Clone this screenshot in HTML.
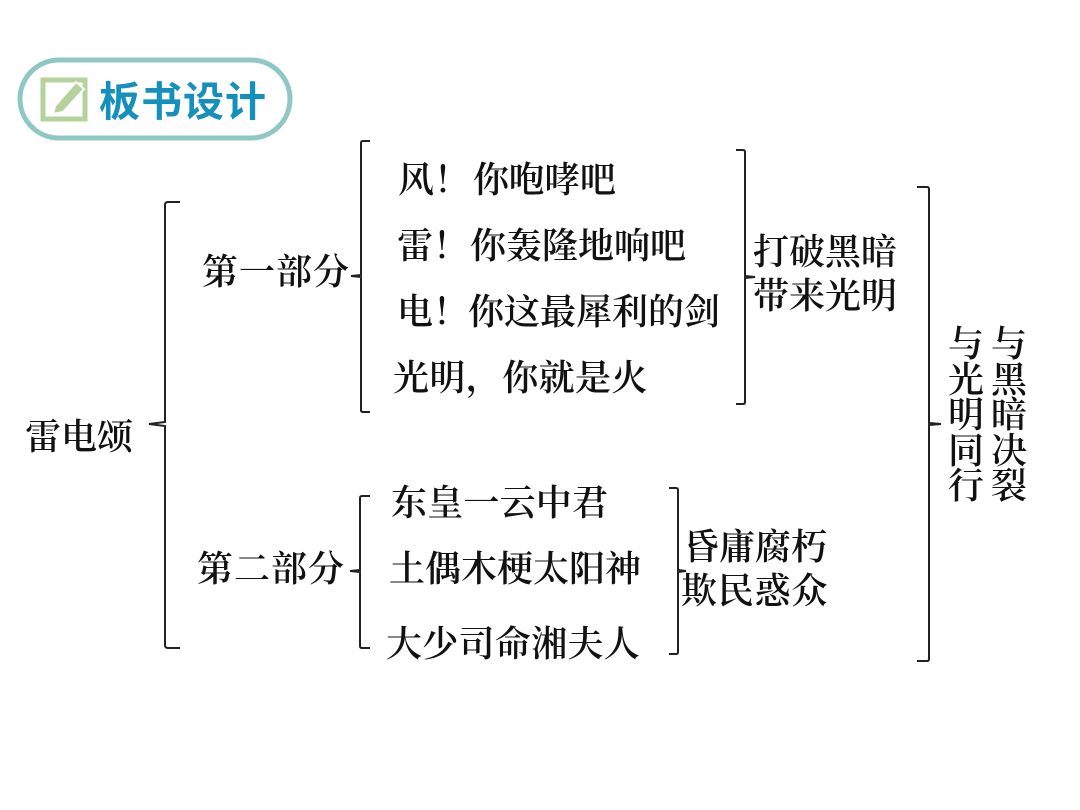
<!DOCTYPE html>
<html><head><meta charset="utf-8"><style>
html,body{margin:0;padding:0;background:#fff}
#p{position:relative;width:1080px;height:810px;overflow:hidden;background:#fff}
svg{position:absolute;left:0;top:0}
.t{position:absolute;white-space:nowrap;font-family:"Liberation Serif","Noto Serif CJK SC",serif;font-size:36px;line-height:40px;color:#111;font-weight:600}
.v{width:36px;white-space:normal;text-align:center;line-height:35.5px}
#h{position:absolute;left:99px;top:77px;font-family:"Liberation Sans","Noto Sans CJK SC",sans-serif;font-size:41px;line-height:50px;font-weight:700;color:#1590bd;white-space:nowrap;letter-spacing:1px}
</style></head><body><div id="p">
<svg width="1080" height="810" fill="none" stroke="#222" stroke-width="2">
<rect x="20" y="60" width="270" height="78" rx="39" stroke="#8fc7c4" stroke-width="5" fill="#fff"/>
<rect x="43" y="80" width="42" height="39" stroke="#b5d19c" stroke-width="5" fill="#fff"/>
<path d="M55 106 L76 82 L84 89 L63 112 L53 114 Z" fill="#b5d19c" stroke="#fff" stroke-width="2"/>
<path d="M180 202 H168 Q165 202 165 205 V422 L149 424 L165 426 V645 Q165 648 168 648 H180"/>
<path d="M370 141 H363 Q361 141 361 143 V275 L351 276 L361 277 V410 Q361 412 363 412 H370"/>
<path d="M736 150 H743 Q745 150 745 152 V276 L755 277 L745 278 V402 Q745 404 743 404 H736"/>
<path d="M370 496 H362 Q360 496 360 498 V570 L350 571 L360 572 V646 Q360 648 362 648 H370"/>
<path d="M669 488 H676 Q678 488 678 490 V570 L686 571 L678 572 V652 Q678 654 676 654 H669"/>
<path d="M917 187 H927 Q929 187 929 189 V423 L941 424 L929 425 V659 Q929 661 927 661 H917"/>
</svg>
<div id="h">板书设计</div>
<div class="t" style="left:25px;top:417px;letter-spacing:0">雷电颂</div>
<div class="t" style="left:202px;top:252px;letter-spacing:1px">第一部分</div>
<div class="t" style="left:197px;top:549px;letter-spacing:1px">第二部分</div>
<div class="t" style="left:398px;top:160px;letter-spacing:0">风！<span style="margin-left:3px;letter-spacing:-.4px">你咆哮吧</span></div>
<div class="t" style="left:397px;top:226px;letter-spacing:0">雷！<span style="margin-left:1px;letter-spacing:0">你轰隆地响吧</span></div>
<div class="t" style="left:397px;top:292px;letter-spacing:0">电！<span style="margin-left:-1px">你这最犀利的剑</span></div>
<div class="t" style="left:393px;top:358px;letter-spacing:.4px">光明，你就是火</div>
<div class="t" style="left:391px;top:483px;letter-spacing:.2px">东皇一云中君</div>
<div class="t" style="left:389px;top:549px;letter-spacing:0">土偶木梗太阳神</div>
<div class="t" style="left:386px;top:624px;letter-spacing:.3px">大少司命湘夫人</div>
<div class="t" style="left:753px;top:232px;letter-spacing:0">打破黑暗</div>
<div class="t" style="left:753px;top:276px;letter-spacing:0">带来光明</div>
<div class="t" style="left:683px;top:527px;letter-spacing:0">昏庸腐朽</div>
<div class="t" style="left:681px;top:571px;letter-spacing:.8px">欺民惑众</div>
<div class="t v" style="left:948px;top:327px">与光明同行</div>
<div class="t v" style="left:991px;top:327px">与黑暗决裂</div>
</div></body></html>
